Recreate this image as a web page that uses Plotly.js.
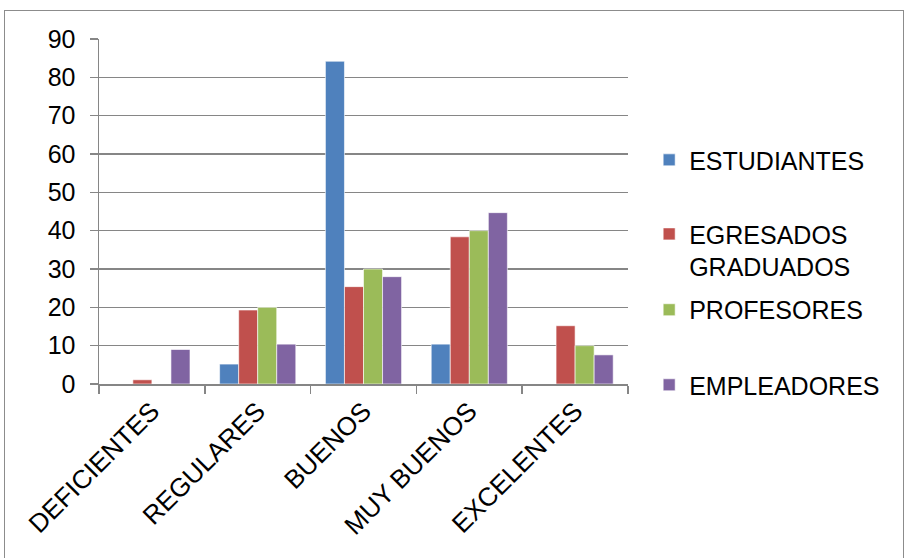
<!DOCTYPE html>
<html>
<head>
<meta charset="utf-8">
<script src="https://cdn.plot.ly/plotly-3.0.1.min.js"></script>
<style>
  html, body { margin: 0; padding: 0; background: #fff; }
  #wrap { position: relative; width: 907px; height: 558px; overflow: hidden; }
  #frame { position: absolute; left: 4px; top: 10px; width: 900px; height: 560px;
           border: 1px solid #8c8c8c; box-sizing: border-box; pointer-events: none; }
  #chart { position: absolute; left: 0; top: 0; width: 907px; height: 558px; }
</style>
</head>
<body>
<div id="wrap">
  <div id="chart"></div>
  <div id="frame"></div>
</div>
<script>
// Valoración por categoría y grupo encuestado (%)
const categorias = ["DEFICIENTES", "REGULARES", "BUENOS", "MUY BUENOS", "EXCELENTES"];
const estudiantes = [0, 5.2, 84.2, 10.4, 0];
const egresados   = [1.1, 19.3, 25.4, 38.4, 15.2];
const profesores  = [0, 20, 30, 40, 10];
const empleadores = [9, 10.4, 28, 44.7, 7.6];
const nombres = ["ESTUDIANTES", "EGRESADOS<br>GRADUADOS", "PROFESORES", "EMPLEADORES"];
const colores = ["#4F81BD", "#C0504D", "#9BBB59", "#8064A2"];
const yTicks = [0, 10, 20, 30, 40, 50, 60, 70, 80, 90];

// one legend box per series so each entry can sit at its own height
const legendIds = ["legend", "legend2", "legend3", "legend4"];
const legendY = [0.649, 0.388, 0.2145, -0.003];

const series = [estudiantes, egresados, profesores, empleadores];
const traces = series.map((vals, i) => ({
  type: "bar",
  name: nombres[i],
  x: categorias,
  y: vals,
  legend: legendIds[i],
  marker: { color: colores[i], line: { color: "rgba(255,255,255,0.6)", width: 1 } },
  hoverinfo: "x+y"
}));

const baseFont = "Liberation Sans, Arial, sans-serif";

const layout = {
  width: 907, height: 558,
  margin: { l: 99, r: 279, t: 39, b: 174 },
  paper_bgcolor: "#fff", plot_bgcolor: "#fff",
  font: { family: baseFont, color: "#000", size: 25 },
  barmode: "group",
  bargap: 0.28,
  bargroupgap: 0,
  xaxis: {
    type: "category",
    tickangle: -45,
    tickson: "boundaries",
    ticks: "outside", ticklen: 8, tickcolor: "#868686", tickwidth: 1.5,
    showline: true, linecolor: "#868686", linewidth: 1.5,
    showgrid: false,
    tickfont: { size: 26 },
    fixedrange: true
  },
  yaxis: {
    range: [0, 90],
    tickvals: yTicks,
    ticktext: yTicks.map(String),
    showgrid: true, gridcolor: "#868686", gridwidth: 1.5,
    showline: true, linecolor: "#868686", linewidth: 1.5,
    ticks: "outside", ticklen: 8, tickcolor: "#868686", tickwidth: 1.5,
    ticklabelstandoff: 9,
    zeroline: false,
    tickfont: { size: 25 },
    fixedrange: true
  },
  showlegend: true
};

legendIds.forEach((id, i) => {
  layout[id] = {
    x: 1.04, y: legendY[i], xanchor: "left", yanchor: "middle",
    font: { size: 25, family: baseFont, color: "#000" },
    valign: "top",
    itemwidth: 30,
    bgcolor: "rgba(0,0,0,0)"
  };
});

Plotly.newPlot("chart", traces, layout, { displayModeBar: false, staticPlot: true });
</script>
</body>
</html>
